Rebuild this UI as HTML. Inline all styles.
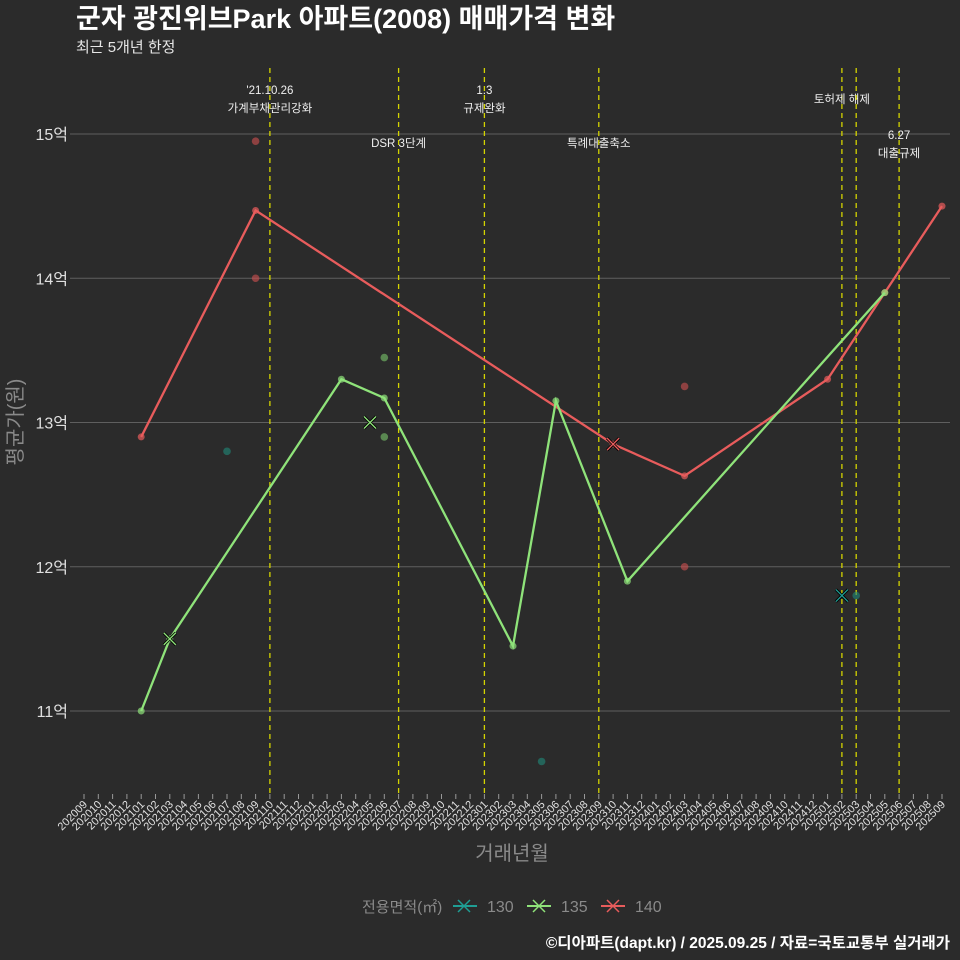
<!DOCTYPE html>
<html><head><meta charset="utf-8"><style>
body{margin:0;background:#2b2b2b;}
svg{display:block;font-family:"Liberation Sans","Noto Sans CJK KR",sans-serif;}
</style></head><body>
<svg id="chart" width="960" height="960" viewBox="0 0 960 960" xmlns="http://www.w3.org/2000/svg">
<rect width="960" height="960" fill="#2b2b2b"/>
<text x="76" y="28" fill="#fff" font-size="27" font-weight="bold">군자 광진위브Park 아파트(2008) 매매가격 변화</text>
<text x="76" y="52" fill="#e6e6e6" font-size="15">최근 5개년 한정</text>
<g id="grid"></g><g id="vlines"></g><g id="series"></g><g id="xticks"></g>
<text transform="translate(22,422) rotate(-90)" text-anchor="middle" fill="#8a8a8a" font-size="20">평균가(원)</text>
<text x="512" y="860" text-anchor="middle" fill="#8a8a8a" font-size="20">거래년월</text>
<g font-size="16" fill="#8a8a8a">
<text x="362" y="912" font-size="15">전용면적(㎡)</text>
<g><line x1="453" y1="906" x2="477" y2="906" stroke="#1f9e94" stroke-width="2"/><path d="M458 900l12 12M470 900l-12 12" stroke="#1f9e94" stroke-width="1.5"/><text x="487" y="912">130</text></g>
<g><line x1="527" y1="906" x2="551" y2="906" stroke="#8fe37a" stroke-width="2"/><path d="M533 900l12 12M545 900l-12 12" stroke="#8fe37a" stroke-width="1.5"/><text x="561" y="912">135</text></g>
<g><line x1="601" y1="906" x2="625" y2="906" stroke="#e85c5c" stroke-width="2"/><path d="M607 900l12 12M619 900l-12 12" stroke="#e85c5c" stroke-width="1.5"/><text x="635" y="912">140</text></g>
</g>
<text x="950" y="948" text-anchor="end" fill="#fff" font-size="15.5" font-weight="bold">©디아파트(dapt.kr) / 2025.09.25 / 자료=국토교통부 실거래가</text>
</svg>
<script>
const months=[];for(let y=2020,m=9;!(y===2025&&m===10);){months.push(''+y+(m<10?'0':'')+m);m++;if(m>12){m=1;y++;}}
const yTicks=[11,12,13,14,15];
const policyMonths=['202110','202207','202301','202309','202502','202503','202506'];
const policyLabels=[["'21.10.26","가계부채관리강화"],["DSR 3단계"],["1.3","규제완화"],["특례대출축소"],["토허제 해제"],[],["6.27","대출규제"]];
const policyLabelY=[[90,108],[143],[90,108],[143],[99],[],[135,153]];
const line140Months=['202101','202109','202310','202403','202501','202505','202509'];
const line140Values=[12.9,14.47,12.85,12.63,13.3,13.9,14.5];
const line135Months=['202101','202103','202203','202206','202303','202306','202311','202505'];
const line135Values=[11.0,11.5,13.3,13.17,11.45,13.15,11.9,13.9];
const pts140Months=['202109','202109','202403','202403'];
const pts140Values=[14.95,14.0,13.25,12.0];
const pts135Months=['202206','202206'];
const pts135Values=[13.45,12.9];
const pts130Months=['202107','202305','202503'];
const pts130Values=[12.8,10.65,11.8];
const x140Months=['202310'];const x140Values=[12.85];
const x135Months=['202103','202205'];const x135Values=[11.5,13.0];
const x130Months=['202502'];const x130Values=[11.8];

const NS='http://www.w3.org/2000/svg';
const X=m=>84+months.indexOf(m)*14.3;
const Y=v=>134+(15-v)*144.25;
function mk(tag,attrs,parent){const e=document.createElementNS(NS,tag);for(const k in attrs)e.setAttribute(k,attrs[k]);document.getElementById(parent).appendChild(e);return e;}
yTicks.forEach(v=>{
  const l=mk('line',{x1:70,x2:950,y1:Y(v),y2:Y(v),stroke:'#5f5f5f','stroke-width':1},'grid');
  
  
  const t=mk('text',{x:68,y:Y(v)+6,'text-anchor':'end',fill:'#e0e0e0','font-size':16},'grid');
  t.textContent=v+'억';
  
  
});
months.forEach(m=>{
  const x=X(m);
  const tk=mk('line',{x1:x,x2:x,y1:794,y2:799,stroke:'#999','stroke-width':1},'xticks');
  
  
  const t=mk('text',{transform:`translate(${x+4},805) rotate(-45)`,'text-anchor':'end',fill:'#e0e0e0','font-size':11},'xticks');
  t.textContent=m;
  
  
});
policyMonths.forEach((m,i)=>{
  const x=X(m);
  const l=mk('line',{x1:x,x2:x,y1:68,y2:797,stroke:'#d4d400','stroke-width':1.3,'stroke-dasharray':'5,4'},'vlines');
  
  
  policyLabels[i].forEach((s,j)=>{
    const t=mk('text',{x:x,y:policyLabelY[i][j]+4,'text-anchor':'middle',fill:'#f0f0f0','font-size':11.5},'vlines');
    t.textContent=s;
    
    
  });
});
function drawLine(ms,vs,c,name){
  const p=mk('polyline',{points:ms.map((m,i)=>X(m)+','+Y(vs[i])).join(' '),fill:'none',stroke:c,'stroke-width':2.3},'series');
  
  
  ms.forEach((m,i)=>{const d=mk('circle',{cx:X(m),cy:Y(vs[i]),r:3.5,fill:c,opacity:0.7},'series');
    
    });
}
function drawPts(ms,vs,c,name){ms.forEach((m,i)=>{const d=mk('circle',{cx:X(m),cy:Y(vs[i]),r:3.8,fill:c,opacity:0.6},'series');
  
  });}
function drawX(ms,vs,c,name){ms.forEach((m,i)=>{const x=X(m),y=Y(vs[i]);
  mk('path',{d:`M${x-6} ${y-6}l12 12M${x+6} ${y-6}l-12 12`,stroke:'#000','stroke-width':3},'series');
  const d=mk('path',{d:`M${x-6} ${y-6}l12 12M${x+6} ${y-6}l-12 12`,stroke:c,'stroke-width':1.3},'series');
  
  });}
drawPts(pts130Months,pts130Values,'#1f8a7a','point-130');
drawPts(pts140Months,pts140Values,'#d05050','point-140');
drawPts(pts135Months,pts135Values,'#7ac76a','point-135');
drawLine(line140Months,line140Values,'#e85c5c','line-140');
drawLine(line135Months,line135Values,'#8fe37a','line-135');
drawX(x130Months,x130Values,'#1f9e94','single-trade-130');
drawX(x135Months,x135Values,'#8fe37a','single-trade-135');
drawX(x140Months,x140Values,'#e85c5c','single-trade-140');
</script>
</body></html>
